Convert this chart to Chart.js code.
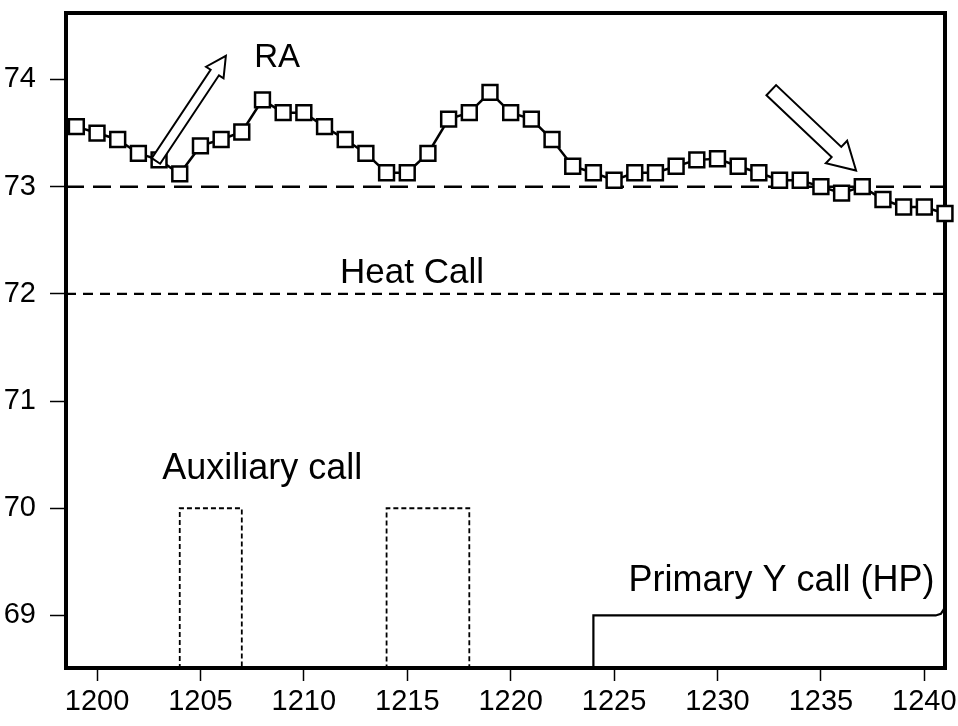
<!DOCTYPE html>
<html>
<head>
<meta charset="utf-8">
<script src="https://cdn.jsdelivr.net/npm/chart.js@4.4.1/dist/chart.umd.min.js"></script>
<style>
  html, body { margin: 0; padding: 0; background: #fff; }
  #wrap { width: 958px; height: 726px; }
</style>
</head>
<body>
<div id="wrap"><canvas id="chart" width="958" height="726"></canvas></div>
<script>
// time axis (one reading per minute) and room air temperature
const minutes = [1199, 1200, 1201, 1202, 1203, 1204, 1205, 1206, 1207, 1208, 1209,
  1210, 1211, 1212, 1213, 1214, 1215, 1216, 1217, 1218, 1219, 1220, 1221, 1222,
  1223, 1224, 1225, 1226, 1227, 1228, 1229, 1230, 1231, 1232, 1233, 1234, 1235,
  1236, 1237, 1238, 1239, 1240, 1241];
const raTemp = [73.56, 73.50, 73.44, 73.31, 73.25, 73.12, 73.38, 73.44, 73.51, 73.81, 73.69,
  73.69, 73.56, 73.44, 73.31, 73.13, 73.13, 73.31, 73.63, 73.69, 73.88, 73.69, 73.63, 73.44,
  73.19, 73.13, 73.06, 73.13, 73.13, 73.19, 73.25, 73.26, 73.19, 73.13, 73.06, 73.06, 73.00,
  72.94, 73.00, 72.88, 72.81, 72.81, 72.75];

const setpointLevel = 73;
const heatCallLevel = 72;

// auxiliary call (on = 70), drawn as an on/off trace
const auxX = [1204, 1204, 1207, 1207, 1214, 1214, 1218, 1218];
const auxY = [68.5, 70, 70, 68.5, 68.5, 70, 70, 68.5];

// primary Y call (HP), on = 69
const primaryX = [1224, 1224, 1240.55, 1240.8, 1240.95, 1241];
const primaryY = [68.5, 69, 69, 69.015, 69.06, 69.15];

const xMin = 1198.5, xMax = 1241;
const yMin = 68.51, yMax = 74.62;
const xTicks = [1200, 1205, 1210, 1215, 1220, 1225, 1230, 1235, 1240];
const yTicks = [69, 70, 71, 72, 73, 74];

const notes = [
  { text: 'RA', x: 1207.6, y: 74.2, size: 33 },
  { text: 'Heat Call', x: 1211.75, y: 72.19, size: 35 },
  { text: 'Auxiliary call', x: 1203.15, y: 70.37, size: 36 },
  { text: 'Primary Y call (HP)', x: 1225.7, y: 69.32, size: 36 }
];
const arrows = [
  { from: [1202.85, 73.24], to: [1206.23, 74.22], shaft: 10, head: 21, headLen: 20 },
  { from: [1232.6, 73.9], to: [1236.7, 73.15], shaft: 14, head: 31, headLen: 27 }
];

const FONT = "'Liberation Sans', Arial, sans-serif";

const toPts = (xs, ys) => xs.map((x, i) => ({ x, y: ys[i] }));

// frame round the plot area, drawn under the data so end markers sit on it
const framePlugin = {
  id: 'frame',
  beforeDatasetsDraw(chart) {
    const { ctx, chartArea: a } = chart;
    ctx.save();
    ctx.strokeStyle = '#000';
    ctx.lineWidth = 4;
    ctx.strokeRect(a.left, a.top, a.right - a.left, a.bottom - a.top);
    ctx.restore();
  }
};

// text labels and hollow arrows
const notesPlugin = {
  id: 'notes',
  afterDatasetsDraw(chart) {
    const { ctx, scales: { x, y } } = chart;
    ctx.save();
    arrows.forEach(ar => {
      const x0 = x.getPixelForValue(ar.from[0]), y0 = y.getPixelForValue(ar.from[1]);
      const x1 = x.getPixelForValue(ar.to[0]), y1 = y.getPixelForValue(ar.to[1]);
      const len = Math.hypot(x1 - x0, y1 - y0);
      const dx = (x1 - x0) / len, dy = (y1 - y0) / len;
      const nx = -dy, ny = dx;
      const bx = x1 - dx * ar.headLen, by = y1 - dy * ar.headLen;
      const s = ar.shaft / 2, h = ar.head / 2;
      ctx.beginPath();
      ctx.moveTo(x0 + nx * s, y0 + ny * s);
      ctx.lineTo(bx + nx * s, by + ny * s);
      ctx.lineTo(bx + nx * h, by + ny * h);
      ctx.lineTo(x1, y1);
      ctx.lineTo(bx - nx * h, by - ny * h);
      ctx.lineTo(bx - nx * s, by - ny * s);
      ctx.lineTo(x0 - nx * s, y0 - ny * s);
      ctx.closePath();
      ctx.fillStyle = '#fff';
      ctx.fill();
      ctx.strokeStyle = '#000';
      ctx.lineWidth = 2;
      ctx.lineJoin = 'miter';
      ctx.stroke();
    });
    ctx.fillStyle = '#000';
    ctx.textAlign = 'left';
    ctx.textBaseline = 'middle';
    notes.forEach(n => {
      ctx.font = n.size + 'px ' + FONT;
      ctx.fillText(n.text, x.getPixelForValue(n.x), y.getPixelForValue(n.y));
    });
    ctx.restore();
  }
};

new Chart(document.getElementById('chart'), {
  type: 'line',
  data: {
    datasets: [
      {
        label: 'RA',
        data: toPts(minutes, raTemp),
        borderColor: '#000',
        borderWidth: 2.5,
        pointStyle: 'rect',
        pointRadius: 10.5,
        pointBorderWidth: 2.5,
        pointBackgroundColor: '#fff',
        pointBorderColor: '#000',
        tension: 0,
        clip: false
      },
      {
        label: 'Setpoint',
        data: toPts([xMin, xMax], [setpointLevel, setpointLevel]),
        borderColor: '#000',
        borderWidth: 2.5,
        borderDash: [18, 9],
        pointRadius: 0
      },
      {
        label: 'Heat Call',
        data: toPts([xMin, xMax], [heatCallLevel, heatCallLevel]),
        borderColor: '#000',
        borderWidth: 2.2,
        borderDash: [10, 7],
        pointRadius: 0
      },
      {
        label: 'Auxiliary call',
        data: toPts(auxX, auxY),
        borderColor: '#000',
        borderWidth: 1.8,
        borderDash: [5, 3],
        pointRadius: 0
      },
      {
        label: 'Primary Y call (HP)',
        data: toPts(primaryX, primaryY),
        borderColor: '#000',
        borderWidth: 2.2,
        pointRadius: 0,
        tension: 0
      }
    ]
  },
  options: {
    responsive: false,
    animation: false,
    layout: { padding: { top: 8, right: 11, left: 0, bottom: 0 } },
    plugins: {
      legend: { display: false },
      tooltip: { enabled: false }
    },
    scales: {
      x: {
        type: 'linear',
        min: xMin,
        max: xMax,
        afterFit: s => { s.height = 58; s.paddingLeft = 0; s.paddingRight = 0; },
        afterBuildTicks: s => { s.ticks = xTicks.map(v => ({ value: v })); },
        border: { display: false },
        grid: { drawOnChartArea: false, drawTicks: true, tickLength: 13, tickColor: '#000', tickWidth: 1.5 },
        ticks: {
          color: '#000',
          padding: 4,
          maxRotation: 0,
          autoSkip: false,
          font: { family: FONT, size: 29 },
          callback: v => String(v)
        }
      },
      y: {
        type: 'linear',
        min: yMin,
        max: yMax,
        afterFit: s => { s.width = 66; s.paddingTop = 0; s.paddingBottom = 0; },
        afterBuildTicks: s => { s.ticks = yTicks.map(v => ({ value: v })); },
        border: { display: false },
        grid: { drawOnChartArea: false, drawTicks: true, tickLength: 16, tickColor: '#000', tickWidth: 1.5 },
        ticks: {
          color: '#000',
          padding: 14,
          font: { family: FONT, size: 29 },
          callback: v => String(v)
        }
      }
    }
  },
  plugins: [framePlugin, notesPlugin]
});
</script>
</body>
</html>
